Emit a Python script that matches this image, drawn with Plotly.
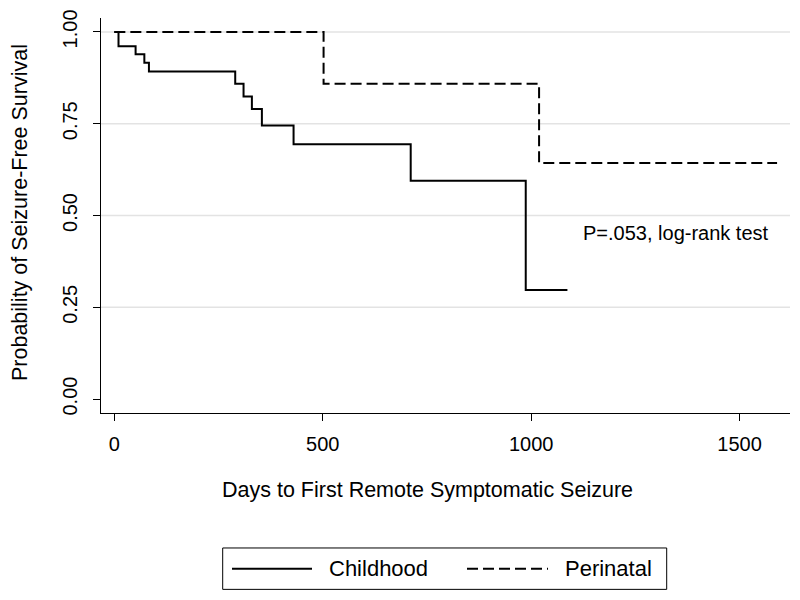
import plotly.graph_objects as go

# Kaplan-Meier step data
childhood_days = [0, 10, 51, 72, 83, 290, 310, 330, 354, 430, 711, 987, 1087]
childhood_surv = [1.0, 0.961, 0.939, 0.916, 0.892, 0.859, 0.824, 0.790, 0.745, 0.694, 0.595, 0.297, 0.297]

perinatal_days = [0, 502, 1019, 1590]
perinatal_surv = [1.0, 0.859, 0.643, 0.643]

x_ticks = [0, 500, 1000, 1500]
y_ticks = [0, 0.25, 0.5, 0.75, 1.0]
y_tick_labels = ["0.00", "0.25", "0.50", "0.75", "1.00"]

FONT = "Liberation Sans, Arial, sans-serif"
W, H = 800, 600
L, R, T, B = 101, 10, 15, 187
PW, PH = W - L - R, H - T - B


def px(x):
    return (x - L) / PW


def py(y):
    return (H - B - y) / PH


fig = go.Figure()
fig.add_trace(go.Scatter(x=childhood_days, y=childhood_surv, mode="lines",
                         line=dict(shape="hv", color="black", width=2),
                         name="Childhood", showlegend=False))
fig.add_trace(go.Scatter(x=perinatal_days, y=perinatal_surv, mode="lines",
                         line=dict(shape="hv", color="black", width=2, dash="11px,5px"),
                         name="Perinatal", showlegend=False))

shapes = []
# grid lines (not at 0)
for v in y_ticks[1:]:
    shapes.append(dict(type="line", xref="paper", yref="y", x0=0, x1=1, y0=v, y1=v,
                       line=dict(color="#e3e3e3", width=1.5), layer="below"))
# legend box
shapes.append(dict(type="rect", xref="paper", yref="paper",
                   x0=px(222.7), x1=px(666.7), y0=py(590.7), y1=py(549),
                   line=dict(color="black", width=1), fillcolor="white"))
shapes.append(dict(type="line", xref="paper", yref="paper",
                   x0=px(232), x1=px(312), y0=py(570), y1=py(570),
                   line=dict(color="black", width=2)))
shapes.append(dict(type="line", xref="paper", yref="paper",
                   x0=px(467), x1=px(548), y0=py(570), y1=py(570),
                   line=dict(color="black", width=2, dash="11px,5px")))

annotations = [
    dict(x=1120, y=0.451, xref="x", yref="y", text="P=.053, log-rank test",
         showarrow=False, xanchor="left", yanchor="middle",
         font=dict(family=FONT, size=20, color="black")),
    dict(x=px(427), y=py(491), xref="paper", yref="paper",
         text="Days to First Remote Symptomatic Seizure", showarrow=False,
         xanchor="center", yanchor="middle", font=dict(family=FONT, size=21.5, color="black")),
    dict(x=px(20), y=py(211.5), xref="paper", yref="paper",
         text="Probability of Seizure-Free Survival", showarrow=False, textangle=-90,
         xanchor="center", yanchor="middle", font=dict(family=FONT, size=21.5, color="black")),
    dict(x=px(327), y=py(570), xref="paper", yref="paper", text="Childhood",
         showarrow=False, xanchor="left", yanchor="middle",
         font=dict(family=FONT, size=22, color="black")),
    dict(x=px(562.7), y=py(570), xref="paper", yref="paper", text="Perinatal",
         showarrow=False, xanchor="left", yanchor="middle",
         font=dict(family=FONT, size=22, color="black")),
]

fig.update_layout(
    width=W, height=H,
    margin=dict(l=L, r=R, t=T, b=B, pad=0),
    paper_bgcolor="white", plot_bgcolor="white",
    showlegend=False,
    font=dict(family=FONT, color="black"),
    shapes=shapes, annotations=annotations,
    xaxis=dict(range=[-32, 1621], tickvals=x_ticks, showgrid=False, zeroline=False,
               showline=True, linecolor="black", linewidth=1,
               ticks="outside", ticklen=7, tickcolor="black", tickwidth=1,
               tickfont=dict(family=FONT, size=20, color="black"), ticklabelstandoff=6),
    yaxis=dict(range=[-0.038, 1.038], tickvals=y_ticks, ticktext=y_tick_labels,
               showgrid=False, zeroline=False, tickangle=-90,
               showline=True, linecolor="black", linewidth=1,
               ticks="outside", ticklen=7, tickcolor="black", tickwidth=1,
               tickfont=dict(family=FONT, size=20, color="black"), ticklabelstandoff=8),
)

fig.write_html("out.html", config={"displayModeBar": False},
               post_script="document.body.style.margin='0px';document.body.style.padding='0px';")
